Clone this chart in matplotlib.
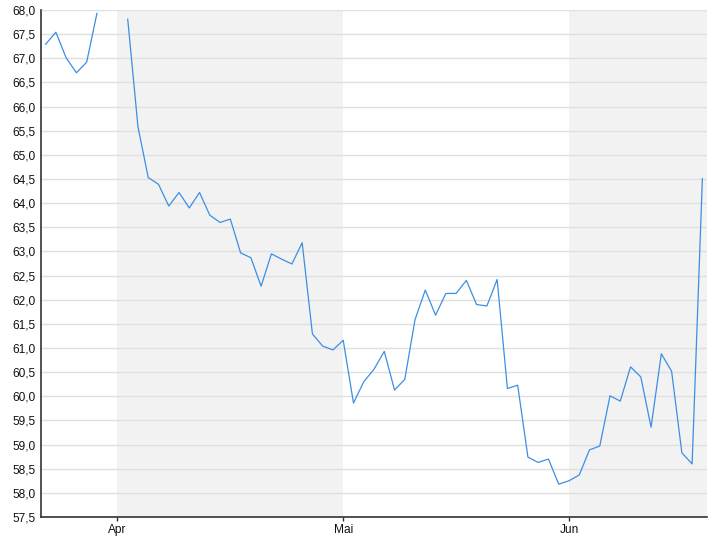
import matplotlib
matplotlib.use("Agg")
import matplotlib.pyplot as plt
import numpy as np
import pandas as pd

plt.rcParams['font.family'] = ['Liberation Sans', 'DejaVu Sans']

# trading days (weekdays) shown on the chart
dates = pd.bdate_range("2025-03-21", "2025-06-19")

# closing values, NaN where no value is drawn
values = [
    67.29, 67.54, 67.01, 66.70, 66.92, 67.93, np.nan,
    np.nan, 67.81, 65.58, 64.53, 64.39, 63.94, 64.22, 63.90, 64.22, 63.75,
    63.60, 63.67, 62.97, 62.87, 62.28, 62.95, 62.84, 62.74, 63.18, 61.29,
    61.04, 60.96,
    61.16, 59.86, 60.30, 60.56, 60.93, 60.13, 60.35, 61.59, 62.20, 61.68,
    62.13, 62.13, 62.40, 61.90, 61.87, 62.42, 60.16, 60.23, 58.74, 58.63,
    58.70, 58.18,
    58.25, 58.37, 58.89, 58.97, 60.01, 59.90, 60.61, 60.40, 59.36, 60.88,
    60.52, 58.83, 58.60, 64.51,
]

month_names = {4: "Apr", 5: "Mai", 6: "Jun"}
shaded_months = [4, 6]

x = np.arange(len(dates))
xmin, xmax = -0.45, len(dates) - 0.55

fig = plt.figure(figsize=(7.2, 5.4), dpi=100)
ax = fig.add_axes([41 / 720, 23 / 540, 666 / 720, 507 / 540])

# first trading day of each month
month_starts = {}
for i, d in enumerate(dates):
    if d.month not in month_starts:
        month_starts[d.month] = i
month_starts.pop(dates[0].month)

starts = sorted(month_starts.items(), key=lambda t: t[1])
for k, (m, pos) in enumerate(starts):
    end = starts[k + 1][1] if k + 1 < len(starts) else xmax
    if m in shaded_months:
        ax.axvspan(pos, end, color="#f2f2f2", lw=0, zorder=0)

ax.plot(x, values, color="#3d8ee3", lw=0.9, zorder=3)

ax.set_xlim(xmin, xmax)
ax.set_ylim(57.5, 68.0)
ax.set_yticks(np.arange(57.5, 68.01, 0.5))
ax.set_yticklabels([f"{v:.1f}".replace(".", ",") for v in np.arange(57.5, 68.01, 0.5)])
ax.set_xticks([p for m, p in starts])
ax.set_xticklabels([month_names[m] for m, p in starts])

ax.grid(axis="y", color="#e0e0e0", lw=1, zorder=1)
ax.set_axisbelow(True)
for s in ["top", "right"]:
    ax.spines[s].set_visible(False)
for s in ["left", "bottom"]:
    ax.spines[s].set_color("#333333")
    ax.spines[s].set_linewidth(1.2)
    ax.spines[s].set_zorder(4)

ax.tick_params(axis="y", length=0, pad=4, labelsize=8.6, labelcolor="#111111")
ax.tick_params(axis="x", length=3, width=1, color="#333333", pad=2,
               labelsize=8.6, labelcolor="#111111")

fig.savefig("out.png", dpi=100)
